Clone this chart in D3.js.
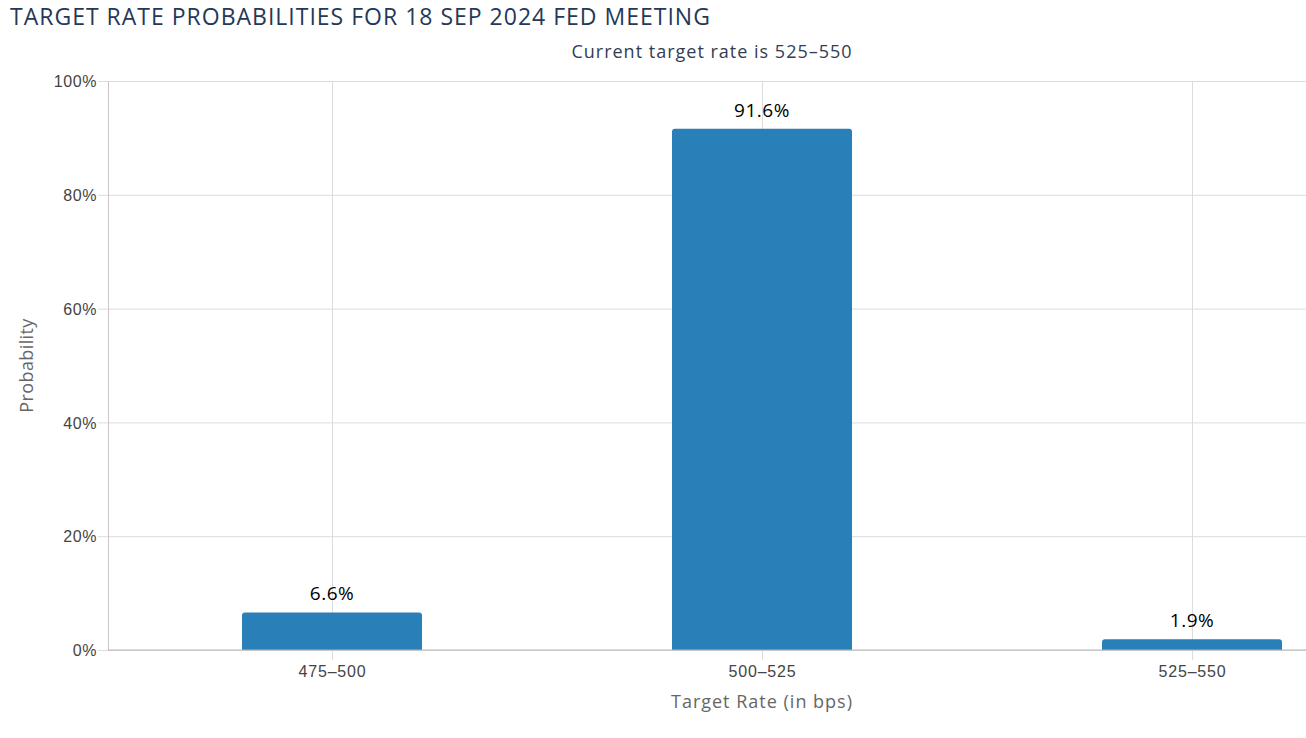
<!DOCTYPE html>
<html>
<head>
<meta charset="utf-8">
<script src="https://cdn.jsdelivr.net/npm/d3@7"></script>
<style>
  body { margin: 0; background: #fff; }
  svg { font-family: "Open Sans", "DejaVu Sans", sans-serif; display: block; }
</style>
</head>
<body>
<svg width="1306" height="738"></svg>
<script>
// dados
const categorias = ["475-500", "500-525", "525-550"];
const probabilidades = [6.6, 91.6, 1.9];
const ticksY = [0, 20, 40, 60, 80, 100];

var svg = d3.select("svg"),
    width = +svg.attr("width"),
    height = +svg.attr("height");

const m = {top: 81, right: 0, bottom: 88, left: 108};
const plotW = width - m.left - m.right,
      plotH = height - m.top - m.bottom;

const x = d3.scalePoint()
    .domain(categorias)
    .range([224, plotW - 114]);

const y = d3.scaleLinear()
    .domain([0, 100])
    .range([plotH, 0]);

const barW = 180;
const traco = s => s.replace("-", "–");

svg.append("text")
    .attr("x", 10).attr("y", 25)
    .attr("fill", "#253858")
    .attr("font-size", 23)
    .attr("letter-spacing", 1)
    .text("TARGET RATE PROBABILITIES FOR 18 SEP 2024 FED MEETING");

svg.append("text")
    .attr("x", 712).attr("y", 58)
    .attr("text-anchor", "middle")
    .attr("fill", "#333d52")
    .attr("font-size", 18)
    .attr("letter-spacing", 1)
    .text("Current target rate is " + traco("525-550"));

const g = svg.append("g")
    .attr("transform", "translate(" + m.left + "," + m.top + ")");

// grade horizontal
g.append("g")
    .call(d3.axisLeft(y).tickValues(ticksY).tickSize(-plotW).tickFormat(""))
    .call(a => a.select(".domain").remove())
    .selectAll("line").attr("stroke", "#dcdcdc");

// grade vertical + tics
g.append("g")
    .attr("transform", "translate(0," + plotH + ")")
    .call(d3.axisBottom(x).tickSize(10).tickFormat(""))
    .call(a => a.select(".domain").remove())
    .selectAll("line").attr("stroke", "#dcdcdc").attr("y1", -plotH);

// barras com cantos superiores arredondados
const r = 3;
g.selectAll("path.bar")
  .data(probabilidades)
  .enter().append("path")
    .attr("class", "bar")
    .attr("fill", "#2980b9")
    .attr("d", (d, i) => {
      const x0 = x(categorias[i]) - barW / 2, x1 = x0 + barW,
            y0 = y(d), y1 = y(0);
      return "M" + x0 + "," + y1 + "V" + (y0 + r) + "Q" + x0 + "," + y0 + " " + (x0 + r) + "," + y0 +
             "H" + (x1 - r) + "Q" + x1 + "," + y0 + " " + x1 + "," + (y0 + r) + "V" + y1 + "Z";
    });

g.selectAll("text.rotulo")
  .data(probabilidades)
  .enter().append("text")
    .attr("class", "rotulo")
    .attr("x", (d, i) => x(categorias[i]))
    .attr("y", d => y(d) - 12)
    .attr("text-anchor", "middle")
    .attr("font-size", 19)
    .attr("letter-spacing", 0.5)
    .attr("fill", "#000")
    .text(d => d.toFixed(1) + "%");

// eixo y
g.append("g")
    .call(d3.axisLeft(y).tickValues(ticksY).tickSize(10).tickFormat(d => d + "%"))
    .call(a => a.select(".domain").attr("stroke", "#c8c8c8"))
    .call(a => a.selectAll("line").attr("stroke", "#dcdcdc"))
    .call(a => a.selectAll("text").attr("font-size", 16).attr("letter-spacing", 0.6).attr("fill", "#444")
      .attr("x", -11).attr("dy", "0.36em").attr("font-family", "inherit"));

// eixo x
g.append("g")
    .attr("transform", "translate(0," + plotH + ")")
    .call(d3.axisBottom(x).tickSize(0).tickFormat(traco))
    .call(a => a.select(".domain").attr("stroke", "#b4b4b4").attr("d", "M0,0H" + plotW))
    .call(a => a.selectAll("text").attr("font-size", 16).attr("letter-spacing", 0.8).attr("fill", "#444")
      .attr("y", 16).attr("dy", "0.71em").attr("font-family", "inherit"));

svg.append("text")
    .attr("x", m.left + x(categorias[1])).attr("y", 708)
    .attr("text-anchor", "middle")
    .attr("font-size", 18)
    .attr("letter-spacing", 1)
    .attr("fill", "#666")
    .text("Target Rate (in bps)");

svg.append("text")
    .attr("transform", "translate(33," + (m.top + plotH / 2) + ") rotate(-90)")
    .attr("text-anchor", "middle")
    .attr("font-size", 18)
    .attr("letter-spacing", 0.4)
    .attr("fill", "#666")
    .text("Probability");
</script>
</body>
</html>
